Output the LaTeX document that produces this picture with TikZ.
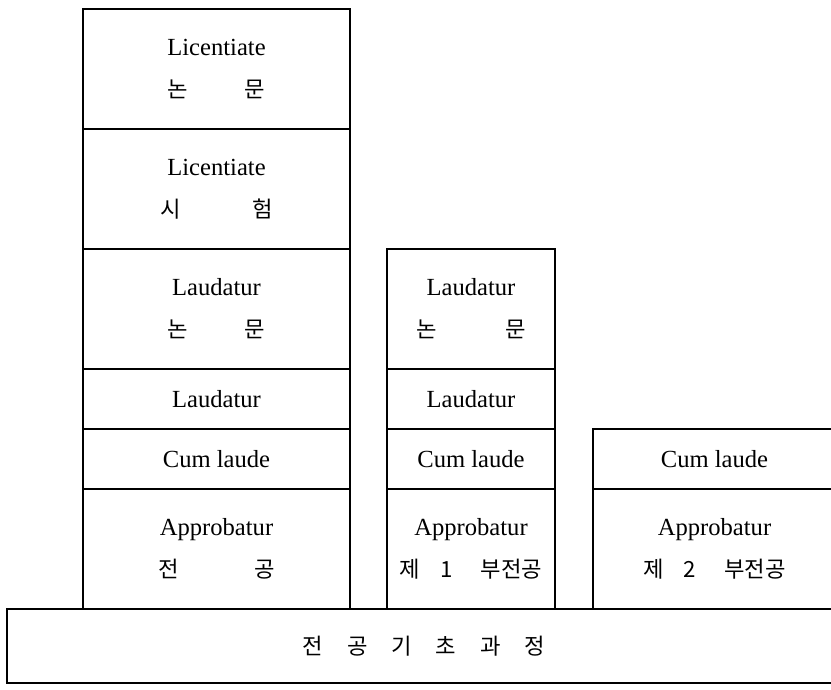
\documentclass[tikz,border=0pt]{standalone}
\usepackage{fontspec}
\setmainfont{Liberation Serif}
\newfontfamily\korfont{Noto Sans CJK KR}
\usetikzlibrary{positioning}
\tikzstyle{grade}=[draw, line width=1pt, inner sep=0pt, outer sep=0pt,
  align=center, font=\fontsize{21}{25}\selectfont]
\tikzstyle{tall}=[grade, minimum height=3.6cm]
\tikzstyle{flat}=[grade, minimum height=1.8cm]
\tikzstyle{major}=[minimum width=8.01cm]
\tikzstyle{minorA}=[minimum width=5.04cm]
\tikzstyle{minorB}=[minimum width=7.29cm]
\newcommand{\kr}[1]{{\korfont\fontsize{19}{22}\selectfont #1}}
\newcommand{\twoline}[2]{#1\\[11pt]\kr{#2}}

\begin{document}
\begin{tikzpicture}
  \useasboundingbox (0,0) rectangle (24.93,-20.7);
  \clip (0,0) rectangle (24.93,-20.7);

  % Base course
  \node [grade, minimum width=25.02cm, minimum height=2.22cm, anchor=north west]
    (base) at (0.21,-18.27)
    {\kr{전\hspace{0.72cm}공\hspace{0.72cm}기\hspace{0.72cm}초\hspace{0.72cm}과\hspace{0.72cm}정}};

  % Major
  \node [tall, major, anchor=south west] (maj1) at (2.49,-18.27)
    {\twoline{Approbatur}{전\hspace{2.25cm}공}};
  \node [flat, major, above=0pt of maj1] (maj2) {Cum laude};
  \node [flat, major, above=0pt of maj2] (maj3) {Laudatur};
  \node [tall, major, above=0pt of maj3] (maj4)
    {\twoline{Laudatur}{논\hspace{1.7cm}문}};
  \node [tall, major, above=0pt of maj4] (maj5)
    {\twoline{Licentiate}{시\hspace{2.15cm}험}};
  \node [tall, major, above=0pt of maj5] (maj6)
    {\twoline{Licentiate}{논\hspace{1.7cm}문}};

  % First minor
  \node [tall, minorA, anchor=south west] (mina1) at (11.61,-18.27)
    {\twoline{Approbatur}{제\hspace{0.6cm}1\hspace{0.85cm}부전공}};
  \node [flat, minorA, above=0pt of mina1] (mina2) {Cum laude};
  \node [flat, minorA, above=0pt of mina2] (mina3) {Laudatur};
  \node [tall, minorA, above=0pt of mina3] (mina4)
    {\twoline{Laudatur}{논\hspace{2.05cm}문}};

  % Second minor
  \node [tall, minorB, anchor=south west] (minb1) at (17.79,-18.27)
    {\twoline{Approbatur}{제\hspace{0.6cm}2\hspace{0.85cm}부전공}};
  \node [flat, minorB, above=0pt of minb1] (minb2) {Cum laude};
\end{tikzpicture}
\end{document}
